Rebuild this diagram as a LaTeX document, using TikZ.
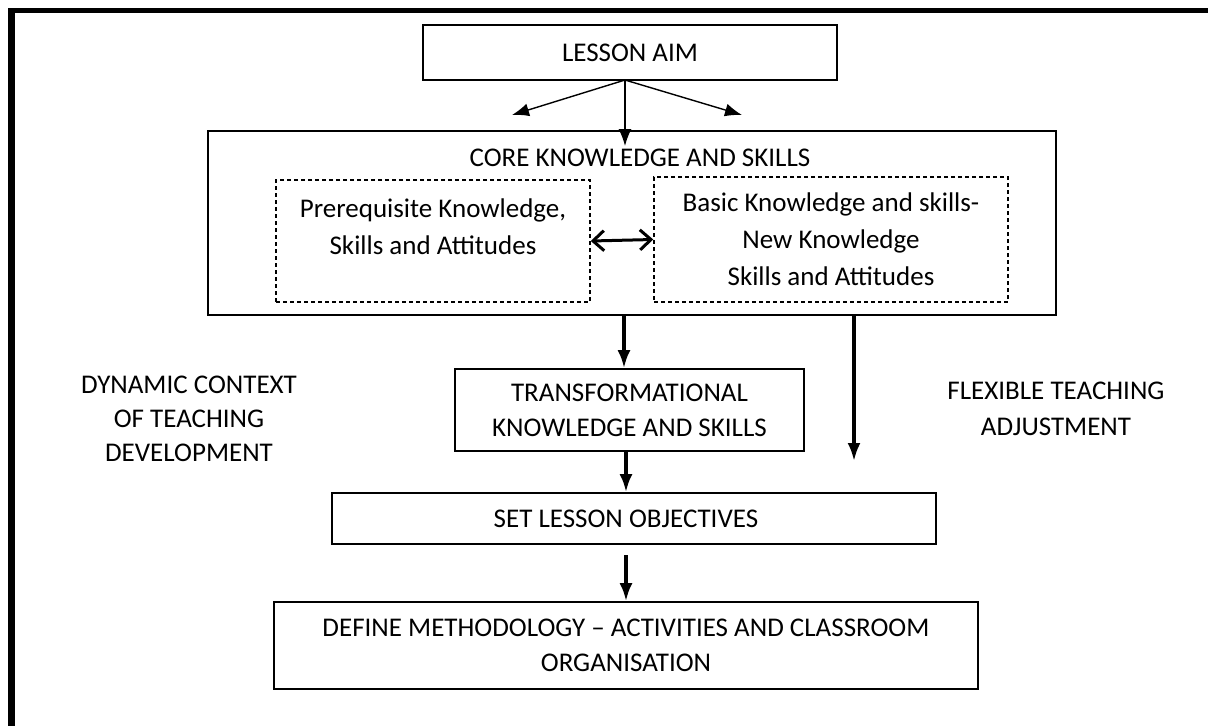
\documentclass[tikz,border=0pt]{standalone}
\usepackage{fontspec}
\setmainfont{Carlito}
\usetikzlibrary{arrows.meta}
\begin{document}
\begin{tikzpicture}[x=1pt,y=-1pt,
  box/.style={draw, line width=1.8pt, inner sep=0pt, font=\fontsize{27}{35}\selectfont, align=center},
  dbox/.style={draw, line width=1.5pt, dash pattern=on 4pt off 3pt, inner sep=0pt, font=\fontsize{27}{37}\selectfont, align=center},
  txt/.style={inner sep=0pt, align=center},
  arrowthin/.style={line width=1.4pt, -{Latex[length=17pt,width=13pt]}},
  arrowthick/.style={line width=3.2pt, -{Latex[length=18pt,width=13pt]}}]
\useasboundingbox (0,0) rectangle (1208,726);
% frame
\fill (8,8) rectangle (1208,13);
\fill (8,8) rectangle (15,726);
% boxes
\node[box, minimum width=414pt, minimum height=55pt] (aim) at (630,52.5) {LESSON AIM};
\node[box, minimum width=848pt, minimum height=184pt] (core) at (632,223) {};
\node[txt, font=\fontsize{27}{35}\selectfont] (coretitle) at (640,158) {CORE KNOWLEDGE AND SKILLS};
\node[dbox, minimum width=314pt, minimum height=122pt] (pre) at (433,241) {};
\node[txt, font=\fontsize{27}{37}\selectfont] (pretxt) at (433,226.5) {Prerequisite Knowledge,\\Skills and Attitudes};
\node[dbox, minimum width=354pt, minimum height=125pt] (basic) at (831,239.5) {Basic Knowledge and skills-\\New Knowledge\\Skills and Attitudes};
\node[box, minimum width=349pt, minimum height=82pt] (trans) at (629.5,410) {TRANSFORMATIONAL\\KNOWLEDGE AND SKILLS};
\node[box, minimum width=604pt, minimum height=51pt] (set) at (634,518.5) {SET LESSON OBJECTIVES\hspace*{16pt}};
\node[box, minimum width=704pt, minimum height=87pt] (define) at (626,645.5) {DEFINE METHODOLOGY -- ACTIVITIES AND CLASSROOM\\ORGANISATION};
% side texts
\node[txt, font=\fontsize{27}{34}\selectfont] (dynamic) at (189,419) {DYNAMIC CONTEXT\\OF TEACHING\\DEVELOPMENT};
\node[txt, font=\fontsize{27}{36}\selectfont] (flexible) at (1056,409) {FLEXIBLE TEACHING\\ADJUSTMENT};
% connectors
\coordinate (apex) at (625,80);
\coordinate (tipL) at (512,115);
\coordinate (tipR) at (742,115);
\coordinate (tipC) at (625,146);
\draw[arrowthin] (apex) -- (tipL);
\draw[arrowthin] (apex) -- (tipR);
\draw[arrowthin] (apex) -- (tipC);
\draw[line width=3pt, {Straight Barb[length=11pt,width=20pt]}-{Straight Barb[length=11pt,width=20pt]}] (pre.east) -- (basic.west);
\draw[arrowthick] (core.south -| 624,0) -- (trans.north -| 624,0);
\coordinate (flexend) at (854,461);
\draw[arrowthick] (core.south -| flexend) -- (flexend);
\draw[arrowthick] (trans.south -| 626,0) -- (set.north -| 626,0);
\coordinate (s1) at (626,555);
\draw[arrowthick] (s1) -- (define.north -| s1);
\end{tikzpicture}
\end{document}
